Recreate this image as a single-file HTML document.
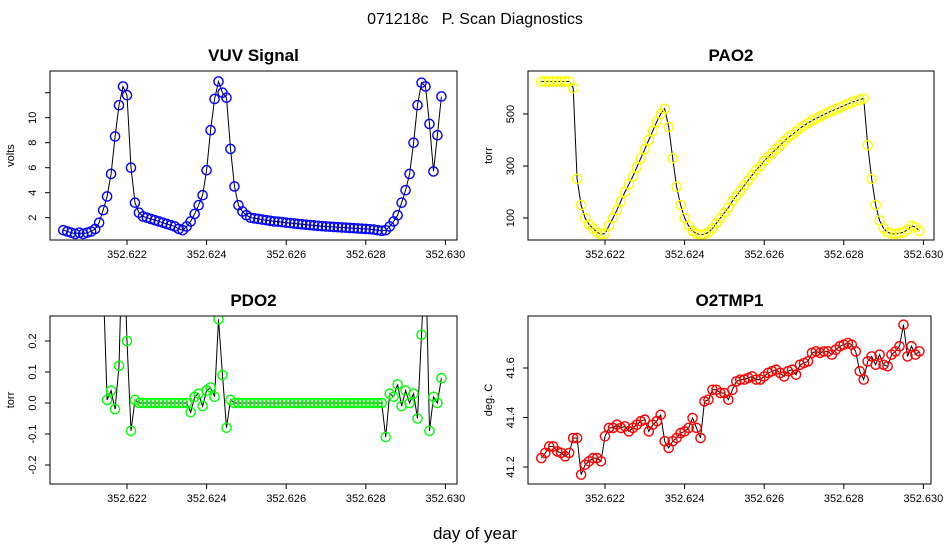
<!DOCTYPE html>
<html><head><meta charset="utf-8"><style>
body{margin:0;background:#fff;}
svg{display:block;font-family:"Liberation Sans",sans-serif;}
</style></head><body>
<svg id="c" width="950" height="550" viewBox="0 0 950 550">
<rect width="950" height="550" fill="#fff"/>
<text x="475" y="24" text-anchor="middle" font-size="16" style="white-space:pre" xml:space="preserve">071218c   P. Scan Diagnostics</text>
<text x="475" y="539" text-anchor="middle" font-size="17">day of year</text>
</svg>
<script>
// time: start 352.6204, step 0.0001, 96 samples
const tStart = 352.6204;
const tStep = 0.0001;
const xTicks = [352.622, 352.624, 352.626, 352.628, 352.630];
const xTickLabels = ["352.622", "352.624", "352.626", "352.628", "352.630"];

const vuv = [1.0,0.9,0.8,0.7,0.8,0.7,0.8,0.9,1.1,1.6,
2.6,3.7,5.5,8.5,11.0,12.5,11.8,6.0,3.2,2.4,
2.1,2.0,1.9,1.8,1.7,1.6,1.5,1.4,1.3,1.1,
1.0,1.3,1.7,2.3,3.0,3.8,5.8,9.0,11.5,12.9,
12.0,11.6,7.5,4.5,3.0,2.5,2.2,2.0,1.95,1.9,
1.85,1.8,1.75,1.7,1.68,1.65,1.6,1.57,1.54,1.5,
1.47,1.44,1.41,1.38,1.35,1.32,1.3,1.28,1.26,1.24,
1.22,1.2,1.18,1.16,1.14,1.12,1.1,1.08,1.05,1.0,
0.95,1.0,1.3,1.7,2.2,3.2,4.2,5.5,8.0,11.0,
12.8,12.5,9.5,5.7,8.6,11.7];

const pao2 = [625,625,625,625,625,625,625,625,600,250,
150,100,75,60,45,38,40,70,100,130,
165,200,230,260,295,330,365,400,435,470,
500,520,450,330,220,150,100,70,50,40,
35,38,45,60,80,100,120,140,165,185,
205,225,245,265,285,300,320,335,350,365,
380,395,410,420,432,445,455,465,475,483,
490,498,505,512,518,525,532,538,545,550,
555,560,380,250,150,90,60,45,40,38,
42,45,55,70,65,50];

const pdo2 = [null,null,null,null,null,null,null,null,null,null,
0.4,0.01,0.04,-0.02,0.12,0.6,0.2,-0.09,0.01,0,
0,0,0,0,0,0,0,0,0,0,
0,0,-0.03,0.02,0.03,-0.01,0.04,0.05,0.02,0.27,
0.09,-0.08,0.01,0,0,0,0,0,0,0,
0,0,0,0,0,0,0,0,0,0,
0,0,0,0,0,0,0,0,0,0,
0,0,0,0,0,0,0,0,0,0,
0,-0.11,0.03,0.02,0.06,-0.01,0.04,0,0.03,-0.05,
0.22,0.5,-0.09,0.02,0,0.08];

const o2tmp = [41.236,41.257,41.283,41.283,41.263,41.257,41.243,41.257,41.317,41.317,
41.169,41.209,41.223,41.236,41.236,41.223,41.324,41.358,41.358,41.371,
41.358,41.364,41.344,41.358,41.371,41.385,41.391,41.344,41.371,41.385,
41.411,41.304,41.277,41.304,41.317,41.337,41.344,41.358,41.398,41.358,
41.317,41.465,41.472,41.512,41.512,41.499,41.499,41.472,41.512,41.546,
41.553,41.553,41.56,41.566,41.553,41.553,41.566,41.58,41.587,41.593,
41.58,41.566,41.587,41.593,41.573,41.613,41.62,41.627,41.661,41.667,
41.661,41.667,41.667,41.654,41.674,41.688,41.694,41.701,41.694,41.667,
41.587,41.553,41.627,41.647,41.613,41.654,41.613,41.607,41.654,41.667,
41.688,41.775,41.647,41.688,41.654,41.667];

const vuvTicks = [2,4,6,8,10,12];
const vuvTickLabels = ["2","4","6","8","10",""];
const paoTicks = [100,300,500];
const pdoTicks = [-0.2,-0.1,0.0,0.1,0.2];
const pdoTickLabels = ["-0.2","-0.1","0.0","0.1","0.2"];
const tmpTicks = [41.2,41.4,41.6];
const tmpTickLabels = ["41.2","41.4","41.6"];

const NS = "http://www.w3.org/2000/svg";
const svg = document.getElementById('c');
function mk(tag, attrs, parent){
  const e = document.createElementNS(NS, tag);
  for (const k in attrs) e.setAttribute(k, attrs[k]);
  (parent||svg).appendChild(e);
  return e;
}
const panels = [
  {name:'vuv', title:'VUV Signal', ylab:'volts', data:vuv, color:'#0000ff', ticks:vuvTicks, labels:vuvTickLabels,
   L:50, T:71, R:457, B:240, yv0:2, yp0:217.7, yv1:10, yp1:117.7},
  {name:'pao2', title:'PAO2', ylab:'torr', data:pao2, color:'#ffff00', ticks:paoTicks, labels:paoTicks.map(String),
   L:528, T:71, R:934, B:240, yv0:100, yp0:218, yv1:500, yp1:114},
  {name:'pdo2', title:'PDO2', ylab:'torr', data:pdo2, color:'#00ff00', ticks:pdoTicks, labels:pdoTickLabels,
   L:50, T:316, R:457, B:484, yv0:0, yp0:403, yv1:0.2, yp1:341},
  {name:'o2tmp1', title:'O2TMP1', ylab:'deg. C', data:o2tmp, color:'#ff0000', ticks:tmpTicks, labels:tmpTickLabels,
   L:528, T:316, R:931, B:484, yv0:41.2, yp0:467, yv1:41.6, yp1:368}
];
panels.forEach((p, pi) => {
  const g = mk('g', {});
  
  
  const xs = t => p.L + 77 + (t - 352.622) * 39800;
  const ys = v => p.yp0 + (v - p.yv0) * (p.yp1 - p.yp0) / (p.yv1 - p.yv0);
  const cid = 'clip' + pi;
  const cp = mk('clipPath', {id: cid}, g);
  mk('rect', {x:p.L, y:p.T, width:p.R-p.L, height:p.B-p.T}, cp);
  const tt = mk('text', {x:(p.L+p.R)/2, y:p.T-10, 'text-anchor':'middle', 'font-size':'17', 'font-weight':'bold'}, g);
  tt.textContent = p.title;
  
  
  const cx = p.L - 36, cy = (p.T + p.B) / 2;
  const yl = mk('text', {x:cx, y:cy, 'text-anchor':'middle', 'font-size':'11', transform:`rotate(-90 ${cx} ${cy})`}, g);
  yl.textContent = p.ylab;
  
  
  p.ticks.forEach((v, i) => {
    const y = ys(v);
    const tk = mk('line', {x1:p.L-5, x2:p.L, y1:y, y2:y, stroke:'#000'}, g);
    
    
    if (p.labels[i]) {
      const lx = p.L - 14;
      const tl = mk('text', {x:lx, y:y, 'text-anchor':'middle', 'font-size':'11', transform:`rotate(-90 ${lx} ${y})`}, g);
      tl.textContent = p.labels[i];
      
      
    }
  });
  xTicks.forEach((t, i) => {
    const x = xs(t);
    const tk = mk('line', {x1:x, x2:x, y1:p.B, y2:p.B+5, stroke:'#000'}, g);
    
    
    const tl = mk('text', {x:x, y:p.B+18, 'text-anchor':'middle', 'font-size':'11'}, g);
    tl.textContent = xTickLabels[i];
    
    
  });
  const plot = mk('g', {'clip-path': `url(#${cid})`}, g);
  
  
  let d = '', started = false;
  p.data.forEach((v, i) => {
    if (v === null) { started = false; return; }
    const x = xs(tStart + i * tStep), y = ys(v);
    d += (started ? 'L' : 'M') + x.toFixed(1) + ' ' + y.toFixed(1);
    started = true;
  });
  const ln = mk('path', {d:d, fill:'none', stroke:'#000', 'stroke-width':'1'}, plot);
  
  
  p.data.forEach((v, i) => {
    if (v === null) return;
    const c = mk('circle', {cx:xs(tStart + i * tStep), cy:ys(v), r:4.6, fill:'none', stroke:p.color, 'stroke-width':'1.4'}, plot);
    
    
  });
  const box = mk('rect', {x:p.L, y:p.T, width:p.R-p.L, height:p.B-p.T, fill:'none', stroke:'#000', 'stroke-width':'1'}, g);
  
  
});
</script>
</body></html>
